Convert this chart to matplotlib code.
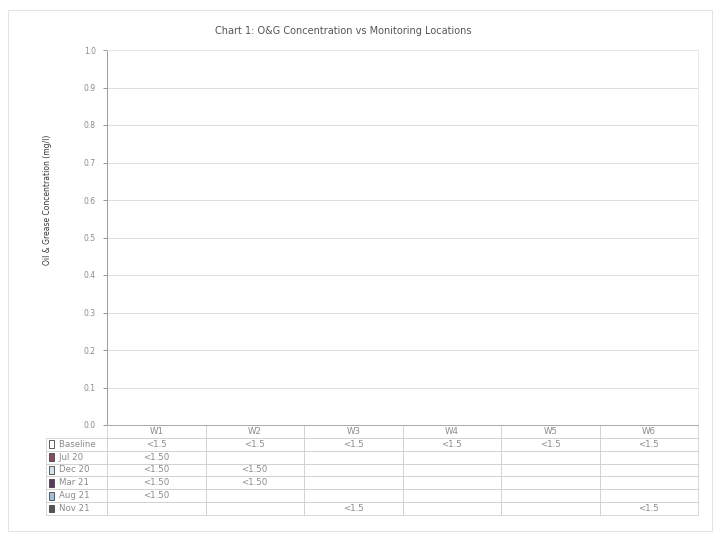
import numpy as np
import matplotlib
matplotlib.use("Agg")
import matplotlib.pyplot as plt
import matplotlib.patches as mpatches

# monitoring locations and survey rounds
locations = ["W1", "W2", "W3", "W4", "W5", "W6"]
rounds    = ["Baseline", "Jul 20", "Dec 20", "Mar 21", "Aug 21", "Nov 21"]
key_cols  = ["#ffffff", "#8a4a5a", "#cfe3ef", "#5a3a5a", "#9fbfdf", "#555555"]

# table values as reported (all below detection limit, so no bars appear)
baseline = ["<1.5", "<1.5", "<1.5", "<1.5", "<1.5", "<1.5"]
jul20    = ["<1.50", "", "", "", "", ""]
dec20    = ["<1.50", "<1.50", "", "", "", ""]
mar21    = ["<1.50", "<1.50", "", "", "", ""]
aug21    = ["<1.50", "", "", "", "", ""]
nov21    = ["", "", "<1.5", "", "", "<1.5"]
table_rows = [baseline, jul20, dec20, mar21, aug21, nov21]


def to_num(s):
    # "<x" values are below detection limit -> nothing plotted
    try:
        return float(s)
    except ValueError:
        return np.nan


W, H = 723, 538
fig = plt.figure(figsize=(W / 100, H / 100), dpi=100)
fig.patch.set_facecolor("white")

left, right, top, bottom = 107, 698, 50, 425
ax = fig.add_axes([left / W, 1 - bottom / H, (right - left) / W, (bottom - top) / H])

x = np.arange(len(locations))
width = 0.8 / len(rounds)
for i, (r, vals) in enumerate(zip(rounds, table_rows)):
    heights = [to_num(v) for v in vals]
    ax.bar(x - 0.4 + width * (i + 0.5), heights, width, color=key_cols[i],
           edgecolor="#333333", linewidth=0.5)

ax.set_xlim(-0.5, len(locations) - 0.5)
ax.set_ylim(0, 1.0)
ax.set_yticks(np.arange(0, 1.01, 0.1))
ax.set_yticklabels([f"{v:.1f}" for v in np.arange(0, 1.01, 0.1)], fontsize=5.5,
                   color="#8a8a8a")
ax.set_xticks([])
ax.tick_params(axis="y", length=3, color="#888888", width=0.6, pad=5)
ax.grid(True, axis="y", color="#d8d8d8", linewidth=0.6)
ax.set_axisbelow(True)
for s in ["top", "right"]:
    ax.spines[s].set_color("#e6e6e6")
    ax.spines[s].set_linewidth(0.6)
ax.spines["left"].set_color("#9a9a9a")
ax.spines["left"].set_linewidth(0.7)
ax.spines["bottom"].set_color("#aaaaaa")
ax.spines["bottom"].set_linewidth(0.7)

# data table underneath the plot; first column holds the round names
tab_left = (46 - left) / (right - left)
tab_h = (515 - bottom) / (bottom - top)
cells = [["    " + r] + vals for r, vals in zip(rounds, table_rows)]
tbl = ax.table(cellText=cells, colLabels=[""] + locations,
               cellLoc="center", bbox=[tab_left, -tab_h, 1 - tab_left, tab_h])
tbl.auto_set_font_size(False)
tbl.set_fontsize(6.2)
for (r, c), cell in tbl.get_celld().items():
    cell.set_edgecolor("#c8c8c8")
    cell.set_linewidth(0.5)
    cell.get_text().set_color("#8a8a8a")
    cell.set_width(-tab_left if c == 0 else 1 / len(locations))
    if c == 0:
        cell.get_text().set_ha("left")
        cell.PAD = 0.03
        if r == 0:
            cell.set_edgecolor("none")

# legend keys in front of the row labels
row_h = tab_h / (len(rounds) + 1)
for i, col in enumerate(key_cols):
    yc = -tab_h + row_h * (len(rounds) - i - 0.5)
    sq = mpatches.Rectangle((tab_left + 0.005, yc - row_h * 0.3), 0.009, row_h * 0.6,
                            transform=ax.transAxes, clip_on=False,
                            facecolor=col, edgecolor="#444444", linewidth=0.6,
                            zorder=5)
    ax.add_patch(sq)

fig.text(343 / W, 1 - 31 / H, "Chart 1: O&G Concentration vs Monitoring Locations",
         ha="center", va="center", fontsize=7, color="#555555")
fig.text(47 / W, 1 - 200 / H, "Oil & Grease Concentration (mg/l)", rotation=90,
         ha="center", va="center", fontsize=5.5, color="#333333")

# faint outer chart border
fig.add_artist(mpatches.Rectangle((8 / W, 1 - 531 / H), (712 - 8) / W, (531 - 10) / H,
                                  transform=fig.transFigure, fill=False,
                                  edgecolor="#e4e4e4", linewidth=0.8))

fig.savefig("out.png", dpi=100)
